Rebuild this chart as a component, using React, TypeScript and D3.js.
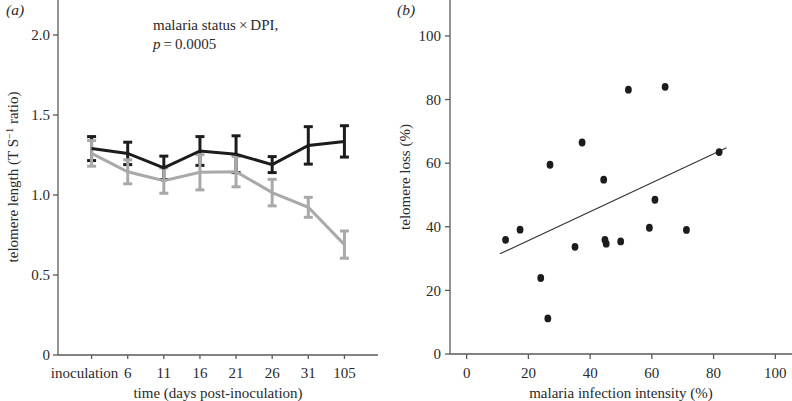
import React from "react";
import * as d3 from "d3";

const timeLabels = ["inoculation", "6", "11", "16", "21", "26", "31", "105"];
const blackMean = [1.29, 1.26, 1.17, 1.275, 1.255, 1.19, 1.31, 1.335];
const blackErr = [0.075, 0.07, 0.073, 0.09, 0.115, 0.05, 0.117, 0.098];
const greyMean = [1.26, 1.145, 1.09, 1.142, 1.146, 1.015, 0.923, 0.69];
const greyErr = [0.08, 0.075, 0.079, 0.11, 0.095, 0.083, 0.0625, 0.085];
const aTicks = [0, 0.5, 1.0, 1.5, 2.0];
const aTickLabels = ["0", "0.5", "1.0", "1.5", "2.0"];

const intensity = [52.4, 64.3, 37.4, 27.0, 44.4, 81.8, 61.0, 12.6, 17.3, 24.0, 26.3, 35.1, 44.8, 45.2, 49.9, 59.2, 71.2];
const loss = [83.1, 84.0, 66.5, 59.5, 54.8, 63.5, 48.5, 35.9, 39.1, 23.9, 11.2, 33.7, 35.9, 34.7, 35.4, 39.7, 39.0];
const fitX = [10.8, 84.2];
const fitIntercept = 26.6;
const fitSlope = 0.454;
const bXTicks = [0, 20, 40, 60, 80, 100];
const bYTicks = [0, 20, 40, 60, 80, 100];

const FONT = "'Liberation Serif', 'Times New Roman', serif";
const FS = 15;
const AXIS = "#5a5a5a";
const TEXT = "#2a2a2a";
const BLACK = "#1c1c1c";
const GREY = "#a9a9a9";

export default function App() {
  const xa = d3.scalePoint<string>().domain(timeLabels).range([58, 378]).padding(0.93);
  const ya = d3.scaleLinear().domain([0, 2.2]).range([355, 3]);
  const xb = d3.scaleLinear().domain([-5.4, 105.4]).range([450, 792]);
  const yb = d3.scaleLinear().domain([0, 111.3]).range([354, 0]);

  const lineGen = (vals: number[]) =>
    d3.line<number>().x((_, i) => xa(timeLabels[i]) as number).y((v) => ya(v))(vals) || "";

  const cap = 4.5;
  const errBars = (means: number[], errs: number[], color: string, key: string) =>
    means.map((m, i) => {
      const x = xa(timeLabels[i]) as number;
      const y1 = ya(m + errs[i]);
      const y2 = ya(m - errs[i]);
      return (
        <g key={key + i} stroke={color} strokeWidth={3}>
          <line x1={x} x2={x} y1={y1} y2={y2} />
          <line x1={x - cap} x2={x + cap} y1={y1} y2={y1} />
          <line x1={x - cap} x2={x + cap} y1={y2} y2={y2} />
        </g>
      );
    });

  const fitLine = d3.line<number>().x((v) => xb(v)).y((v) => yb(fitIntercept + fitSlope * v))(fitX) || "";

  return (
    <svg width={792} height={401} style={{ position: "absolute", left: 0, top: 0, background: "#fff" }} fontFamily={FONT}>
      {/* Panel a */}
      <text x={6} y={15} fontSize={15.5} fontStyle="italic" fill={TEXT}>(a)</text>
      <g stroke={AXIS} strokeWidth={1.3} fill="none">
        <line x1={58} x2={58} y1={0} y2={355} />
        <line x1={58} x2={378} y1={355} y2={355} />
        {aTicks.map((t) => (
          <line key={"ayt" + t} x1={53} x2={58} y1={ya(t)} y2={ya(t)} />
        ))}
        {timeLabels.map((t) => (
          <line key={"axt" + t} x1={xa(t)} x2={xa(t)} y1={355} y2={359} />
        ))}
      </g>
      {aTicks.map((t, i) => (
        <text key={"ayl" + t} x={50} y={ya(t)} dy="0.35em" textAnchor="end" fontSize={FS} fill={TEXT}>
          {aTickLabels[i]}
        </text>
      ))}
      {timeLabels.map((t, i) => (
        <text key={"axl" + t} x={(xa(t) as number) + (i === 0 ? -7 : 0)} y={373} dy="0.35em" textAnchor="middle" fontSize={FS} fill={TEXT}>
          {t}
        </text>
      ))}
      <text x={218} y={398} textAnchor="middle" fontSize={FS} fill={TEXT}>time (days post-inoculation)</text>
      <text transform="translate(18,177) rotate(-90)" textAnchor="middle" fontSize={FS} fill={TEXT}>
        telomere length (T S<tspan dy={-5} fontSize={10.5}>−1</tspan><tspan dy={5}> ratio)</tspan>
      </text>
      <text x={153} y={30} fontSize={FS} fill={TEXT}>malaria status{"\u2009×\u2009"}DPI,</text>
      <text x={153} y={49} fontSize={FS} fill={TEXT}>
        <tspan fontStyle="italic">p</tspan>{"\u2009=\u20090.0005"}
      </text>

      {errBars(blackMean, blackErr, BLACK, "be")}
      {errBars(greyMean, greyErr, GREY, "ge")}
      <path d={lineGen(greyMean)} fill="none" stroke={GREY} strokeWidth={3} />
      <path d={lineGen(blackMean)} fill="none" stroke={BLACK} strokeWidth={3} />

      {/* Panel b */}
      <text x={397} y={15} fontSize={15.5} fontStyle="italic" fill={TEXT}>(b)</text>
      <g stroke={AXIS} strokeWidth={1.3} fill="none">
        <line x1={450} x2={450} y1={0} y2={354} />
        <line x1={450} x2={792} y1={354} y2={354} />
        {bYTicks.map((t) => (
          <line key={"byt" + t} x1={445} x2={450} y1={yb(t)} y2={yb(t)} />
        ))}
        {bXTicks.map((t) => (
          <line key={"bxt" + t} x1={xb(t)} x2={xb(t)} y1={354} y2={359} />
        ))}
      </g>
      {bYTicks.map((t) => (
        <text key={"byl" + t} x={441} y={yb(t)} dy="0.35em" textAnchor="end" fontSize={FS} fill={TEXT}>
          {t}
        </text>
      ))}
      {bXTicks.map((t) => (
        <text key={"bxl" + t} x={xb(t)} y={373} dy="0.35em" textAnchor="middle" fontSize={FS} fill={TEXT}>
          {t}
        </text>
      ))}
      <text x={621} y={398} textAnchor="middle" fontSize={FS} fill={TEXT}>malaria infection intensity (%)</text>
      <text transform="translate(410,177) rotate(-90)" textAnchor="middle" fontSize={FS} fill={TEXT}>telomere loss (%)</text>
      <path d={fitLine} fill="none" stroke="#333" strokeWidth={1.1} />
      {intensity.map((x, i) => (
        <ellipse key={"pt" + i} cx={xb(x)} cy={yb(loss[i])} rx={3.4} ry={3.9} fill={BLACK} />
      ))}
    </svg>
  );
}
